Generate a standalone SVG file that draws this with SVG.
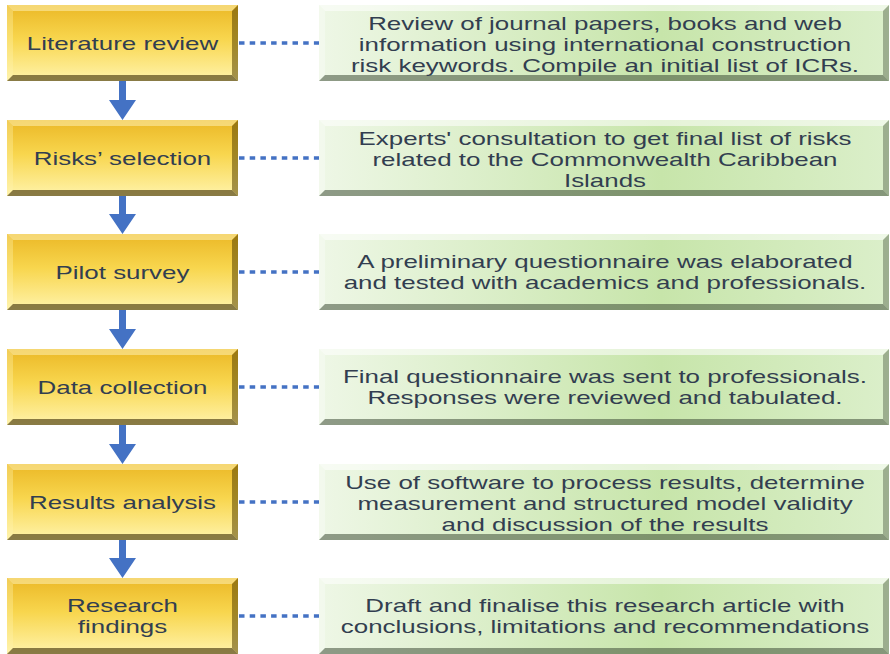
<svg xmlns="http://www.w3.org/2000/svg" xmlns:xlink="http://www.w3.org/1999/xlink" width="890" height="654" viewBox="0 0 890 654">
  <style>
    .t { font-family: "Liberation Sans", Arial, sans-serif; font-size: 18px; fill: #323e50; text-anchor: middle; }
    .dot { stroke: #4472c4; stroke-width: 3.5; stroke-dasharray: 5.5 5.2; fill: none; }
    .arr { fill: #4472c4; }
    .ylt { fill: #fff6c0; opacity: 0.5; }
    .yll { fill: #fff3b0; opacity: 0.35; }
    .ydr { fill: #5a4300; opacity: 0.55; }
    .ydb { fill: #4a3a10; opacity: 0.65; }
    .glt { fill: #ffffff; opacity: 0.55; }
    .gll { fill: #ffffff; opacity: 0.3; }
    .gdr { fill: #4f5f48; opacity: 0.45; }
    .gdb { fill: #3f4f38; opacity: 0.55; }
  </style>
  <defs>
    <linearGradient id="yg" x1="0" y1="0" x2="0" y2="1">
      <stop offset="0" stop-color="#ebb826"/>
      <stop offset="0.45" stop-color="#f8d64e"/>
      <stop offset="1" stop-color="#fff3aa"/>
    </linearGradient>
    <linearGradient id="gg" x1="0" y1="0" x2="1" y2="0">
      <stop offset="0" stop-color="#eef7e6"/>
      <stop offset="0.6" stop-color="#c7e5aa"/>
      <stop offset="1" stop-color="#dbefca"/>
    </linearGradient>
    <g id="ybox">
      <rect x="0" y="0" width="231" height="76" fill="url(#yg)"/>
      <polygon class="ylt" points="0,0 231,0 225,6 6,6"/>
      <polygon class="yll" points="0,0 0,76 6,70 6,6"/>
      <polygon class="ydr" points="231,0 231,76 225,70 225,6"/>
      <polygon class="ydb" points="0,76 231,76 225,70 6,70"/>
    </g>
    <g id="gbox">
      <rect x="0" y="0" width="570" height="76" fill="url(#gg)"/>
      <polygon class="glt" points="0,0 570,0 564,6 6,6"/>
      <polygon class="gll" points="0,0 0,76 6,70 6,6"/>
      <polygon class="gdr" points="570,0 570,76 564,70 564,6"/>
      <polygon class="gdb" points="0,76 570,76 564,70 6,70"/>
    </g>
  </defs>
  <rect width="890" height="654" fill="#ffffff"/>

  <g id="connectors">
    <path class="arr" d="M119,81 h7 v19 h10 l-13.5,20 l-13.5,-20 h10 z"/>
    <path class="arr" d="M119,196 h7 v18 h10 l-13.5,20 l-13.5,-20 h10 z"/>
    <path class="arr" d="M119,310 h7 v19 h10 l-13.5,20 l-13.5,-20 h10 z"/>
    <path class="arr" d="M119,425 h7 v19 h10 l-13.5,20 l-13.5,-20 h10 z"/>
    <path class="arr" d="M119,540 h7 v18 h10 l-13.5,20 l-13.5,-20 h10 z"/>
    <line class="dot" x1="239" y1="43" x2="319" y2="43"/>
    <line class="dot" x1="239" y1="158" x2="319" y2="158"/>
    <line class="dot" x1="239" y1="272" x2="319" y2="272"/>
    <line class="dot" x1="239" y1="387" x2="319" y2="387"/>
    <line class="dot" x1="239" y1="502" x2="319" y2="502"/>
    <line class="dot" x1="239" y1="616" x2="319" y2="616"/>
  </g>

  <g id="step1">
    <use xlink:href="#ybox" x="7" y="5"/>
    <text class="t" transform="translate(122.5,49.5) scale(1.44,1)">Literature review</text>
  </g>
  <g id="step2">
    <use xlink:href="#ybox" x="7" y="120"/>
    <text class="t" transform="translate(122.5,164.5) scale(1.44,1)">Risks’ selection</text>
  </g>
  <g id="step3">
    <use xlink:href="#ybox" x="7" y="234"/>
    <text class="t" transform="translate(122.5,278.5) scale(1.44,1)">Pilot survey</text>
  </g>
  <g id="step4">
    <use xlink:href="#ybox" x="7" y="349"/>
    <text class="t" transform="translate(122.5,393.5) scale(1.44,1)">Data collection</text>
  </g>
  <g id="step5">
    <use xlink:href="#ybox" x="7" y="464"/>
    <text class="t" transform="translate(122.5,508.5) scale(1.44,1)">Results analysis</text>
  </g>
  <g id="step6">
    <use xlink:href="#ybox" x="7" y="578"/>
    <text class="t" transform="translate(122.5,611.75) scale(1.44,1)"><tspan x="0" y="0">Research</tspan><tspan x="0" y="21.5">findings</tspan></text>
  </g>

  <g id="desc1">
    <use xlink:href="#gbox" x="319" y="5"/>
    <text class="t" transform="translate(605,29.5) scale(1.44,1)"><tspan x="0" y="0">Review of journal papers, books and web</tspan><tspan x="0" y="21.5">information using international construction</tspan><tspan x="0" y="43">risk keywords. Compile an initial list of ICRs.</tspan></text>
  </g>
  <g id="desc2">
    <use xlink:href="#gbox" x="319" y="120"/>
    <text class="t" transform="translate(605,144.5) scale(1.44,1)"><tspan x="0" y="0">Experts' consultation to get final list of risks</tspan><tspan x="0" y="21.5">related to the Commonwealth Caribbean</tspan><tspan x="0" y="43">Islands</tspan></text>
  </g>
  <g id="desc3">
    <use xlink:href="#gbox" x="319" y="234"/>
    <text class="t" transform="translate(605,268) scale(1.44,1)"><tspan x="0" y="0">A preliminary questionnaire was elaborated</tspan><tspan x="0" y="21.5">and tested with academics and professionals.</tspan></text>
  </g>
  <g id="desc4">
    <use xlink:href="#gbox" x="319" y="349"/>
    <text class="t" transform="translate(605,383) scale(1.44,1)"><tspan x="0" y="0">Final questionnaire was sent to professionals.</tspan><tspan x="0" y="21.5">Responses were reviewed and tabulated.</tspan></text>
  </g>
  <g id="desc5">
    <use xlink:href="#gbox" x="319" y="464"/>
    <text class="t" transform="translate(605,488.5) scale(1.44,1)"><tspan x="0" y="0">Use of software to process results, determine</tspan><tspan x="0" y="21.5">measurement and structured model validity</tspan><tspan x="0" y="43">and discussion of the results</tspan></text>
  </g>
  <g id="desc6">
    <use xlink:href="#gbox" x="319" y="578"/>
    <text class="t" transform="translate(605,611.75) scale(1.44,1)"><tspan x="0" y="0">Draft and finalise this research article with</tspan><tspan x="0" y="21.5">conclusions, limitations and recommendations</tspan></text>
  </g>
</svg>
